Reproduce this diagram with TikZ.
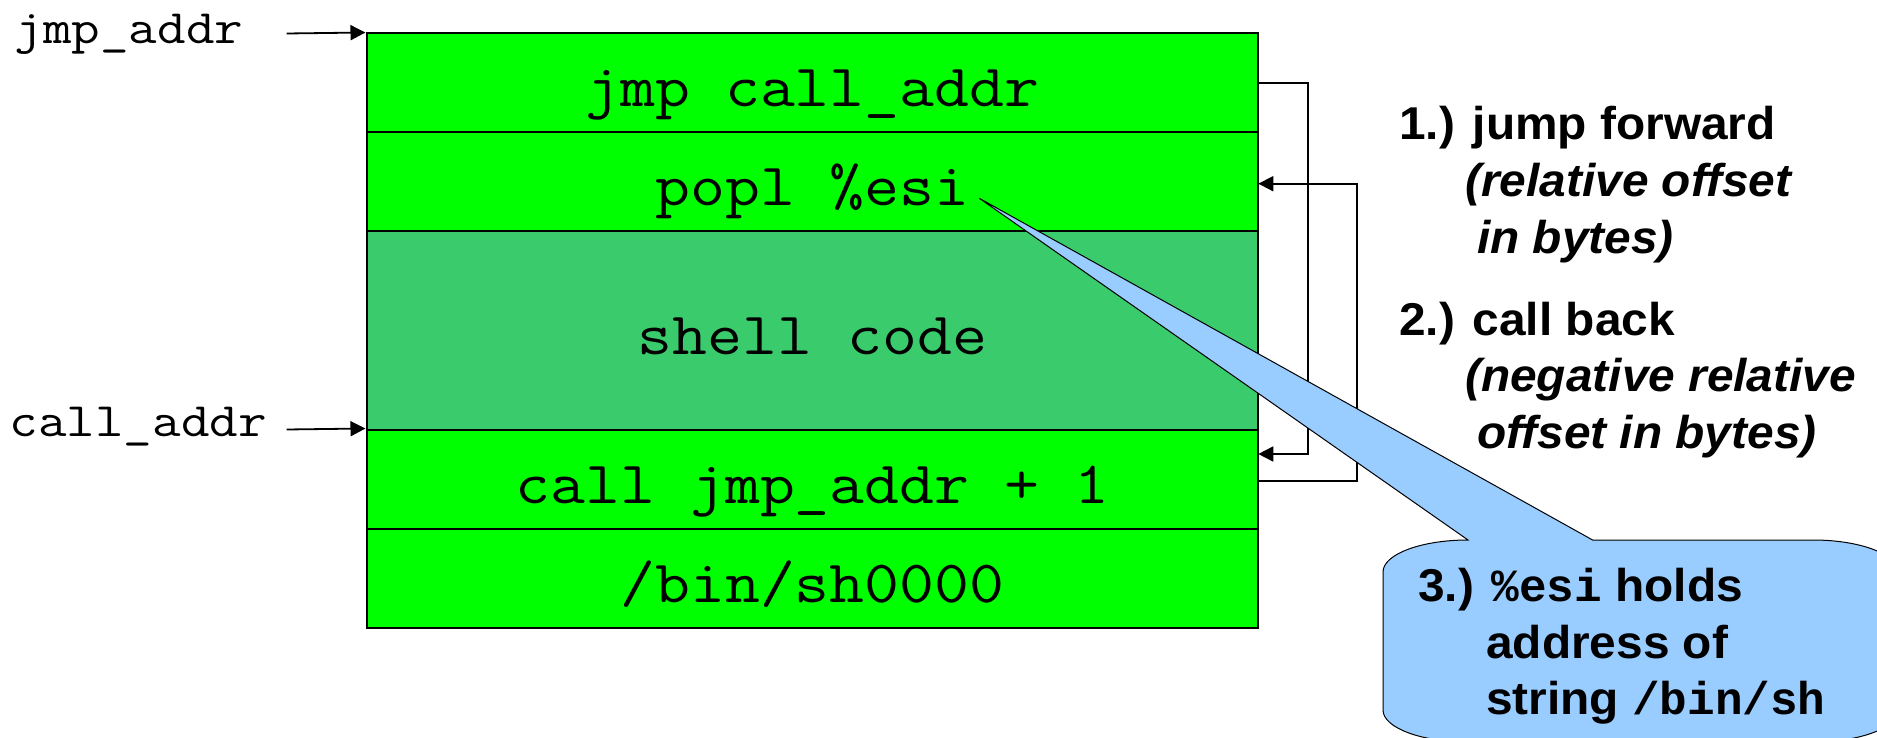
\documentclass[tikz,border=0pt]{standalone}
\usepackage{fontspec}
\usepackage{graphicx}
\usetikzlibrary{arrows.meta,calc}
\newfontfamily\sanb{Liberation Sans}[FakeStretch=1.04]
\newfontfamily\monob{Liberation Mono}
\definecolor{brightgreen}{RGB}{0,255,0}
\definecolor{shellgreen}{RGB}{58,204,108}
\definecolor{calloutblue}{RGB}{153,204,255}
\newcommand\boxtt[1]{\scalebox{1.13}[1]{\fontsize{60}{72}\selectfont\ttfamily #1}}
\newcommand\lbltt[1]{\scalebox{1.155}[1]{\fontsize{48}{58}\selectfont\ttfamily #1}}
\newcommand\cb[1]{{\monob\bfseries #1}}
\begin{document}
\begin{tikzpicture}[x=1pt,y=-1pt,
  row/.style={draw=black, line width=2pt, minimum width=891.8pt, minimum height=99pt,
    inner sep=0pt, text height=60pt, text depth=12pt, fill=brightgreen},
  conn/.style={draw=black, line width=1.8pt},
  tip/.style={-{Triangle[length=15pt,width=15pt]}},
  lbl/.style={inner sep=0pt, anchor=base west},
  note/.style={inner sep=0pt, anchor=base west,
    font={\sanb\bfseries\fontsize{46}{56.6}\selectfont}}
]
\useasboundingbox (0,0) rectangle (1877,738);

% memory rows
\node[row] (r1) at (812.4,83) {\boxtt{jmp call\_addr}};
\node[row] (r2) at (812.4,182) {\boxtt{popl \%esi}};
\node[row, fill=shellgreen, minimum height=198pt] (r3) at (812.4,330.5) {\boxtt{shell code}};
\node[row] (r4) at (812.4,479) {\boxtt{call jmp\_addr + 1}};
\node[row] (r5) at (812.4,578) {\boxtt{/bin/sh0000}};

% left labels
\node[lbl] (ljmp) at (14.5,43.5) {\lbltt{jmp\_addr}};
\node[lbl] (lcall) at (9.5,436.5) {\lbltt{call\_addr}};
\coordinate (ajmp) at (286.6,33.5);
\coordinate (acall) at (286.6,429.5);
\draw[conn,tip] (ajmp) -- (r1.north west);
\draw[conn,tip] (acall) -- (r4.north west);

% right connectors
\coordinate (j1) at (1258.3,454);
\coordinate (c0) at (1258.3,481);
\coordinate (c1) at (1258.3,183.7);
\draw[conn,tip] (r1.east) -- ++(49,0) |- (j1);
\draw[conn,tip] (c0) -- ++(99,0) |- (c1);

% notes
\node[note] (n1) at (1399,140) {\begin{tabular}[t]{@{}l@{}}1.) jump forward\\
  \hspace*{66pt}\itshape(relative offset\\
  \hspace*{78pt}\itshape in bytes)\end{tabular}};
\node[note] (n2) at (1399,335) {\begin{tabular}[t]{@{}l@{}}2.) call back\\
  \hspace*{66pt}\itshape(negative relative\\
  \hspace*{78pt}\itshape offset in bytes)\end{tabular}};

% callout
\coordinate (tailtip) at (979.3,198.3);
\begin{scope}
\clip (0,0) rectangle (1877,738);
\draw[fill=calloutblue, line width=1pt] (1468,540) -- (tailtip) -- (1592.6,540) -- (1813,540)
  .. controls (1860,540) and (1898,554.3) .. (1898,572) -- (1898,710)
  .. controls (1898,727.7) and (1860,742) .. (1813,742) -- (1468,742)
  .. controls (1421,742) and (1383,727.7) .. (1383,710) -- (1383,572)
  .. controls (1383,554.3) and (1421,540) .. (1468,540) -- cycle;
\end{scope}
\node[note] (n3) at (1418,601.7) {\begin{tabular}[t]{@{}l@{}}3.) \cb{\%esi} holds\\
  \hspace*{68pt}address of\\
  \hspace*{68pt}string \cb{/bin/sh}\end{tabular}};
\end{tikzpicture}
\end{document}
